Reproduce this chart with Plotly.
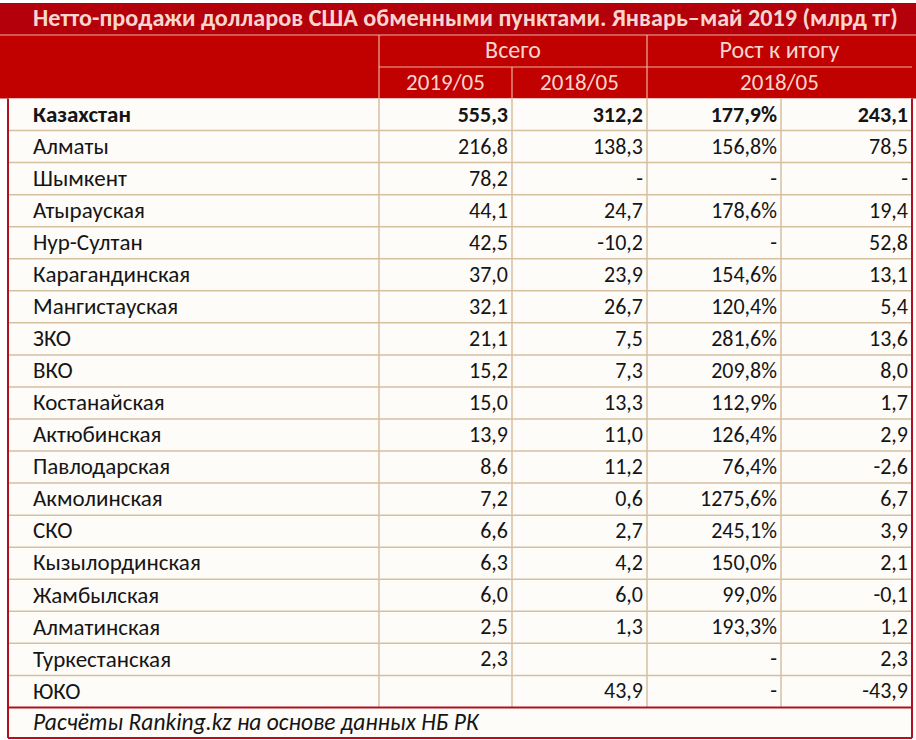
import plotly.graph_objects as go

# ---------------- data ----------------
title = "Нетто-продажи долларов США обменными пунктами. Январь–май 2019 (млрд тг)"
group_headers = ["Всего", "Рост к итогу"]
sub_headers = ["2019/05", "2018/05", "2018/05"]
footer = "Расчёты Ranking.kz на основе данных НБ РК"

regions = ["Казахстан", "Алматы", "Шымкент", "Атырауская", "Нур-Султан",
           "Карагандинская", "Мангистауская", "ЗКО", "ВКО", "Костанайская",
           "Актюбинская", "Павлодарская", "Акмолинская", "СКО",
           "Кызылординская", "Жамбылская", "Алматинская", "Туркестанская", "ЮКО"]
# None -> "-" ; "" -> empty cell
total_2019 = [555.3, 216.8, 78.2, 44.1, 42.5, 37.0, 32.1, 21.1, 15.2, 15.0,
              13.9, 8.6, 7.2, 6.6, 6.3, 6.0, 2.5, 2.3, ""]
total_2018 = [312.2, 138.3, None, 24.7, -10.2, 23.9, 26.7, 7.5, 7.3, 13.3,
              11.0, 11.2, 0.6, 2.7, 4.2, 6.0, 1.3, "", 43.9]
growth_pct = [177.9, 156.8, None, 178.6, None, 154.6, 120.4, 281.6, 209.8, 112.9,
              126.4, 76.4, 1275.6, 245.1, 150.0, 99.0, 193.3, None, None]
growth_abs = [243.1, 78.5, None, 19.4, 52.8, 13.1, 5.4, 13.6, 8.0, 1.7,
              2.9, -2.6, 6.7, 3.9, 2.1, -0.1, 1.2, 2.3, -43.9]

# ---------------- styles / layout constants ----------------
W, H = 916, 740
FONT = "Carlito, Lato, 'Open Sans', sans-serif"
RED_TITLE = "#b3000b"
RED_HEAD = "#c10000"
HEAD_TXT = "#f8d6cf"
HEAD_LINE = "#eeb09f"
GRID = "#d6bfa0"
BORDER = "#b01020"
TXT = "#151515"

x_left, x_lab, x_c1, x_c2, x_c3, x_c4, x_right = 8, 33, 379, 512, 647, 781, 912
y_title0, y_title1 = 3, 35
y_h1 = 67
y_body = 98.5
row_h = 32.05
n = len(regions)
y_body_end = y_body + row_h * n
y_foot_end = 738


def fmt(v, pct=False):
    if v is None:
        return "-"
    if v == "":
        return ""
    s = f"{v:.1f}".replace(".", ",")
    return s + "%" if pct else s


shapes = []


def rect(x0, y0, x1, y1, fill):
    shapes.append(dict(type="rect", xref="x", yref="y", x0=x0, y0=y0, x1=x1, y1=y1,
                       fillcolor=fill, line=dict(width=0), layer="below"))


def line(x0, y0, x1, y1, color, w=1):
    shapes.append(dict(type="line", xref="x", yref="y", x0=x0, y0=y0, x1=x1, y1=y1,
                       line=dict(color=color, width=w), layer="above"))


# header fills
rect(0, y_title0, W, y_title1, RED_TITLE)
rect(0, y_title1, W, y_body, RED_HEAD)
# body
rect(x_left, y_body, x_right, y_foot_end, "#fefcf9")

# header lines
line(0, y_title1, W, y_title1, HEAD_LINE, 1.2)
line(x_c1, y_h1, x_right, y_h1, HEAD_LINE, 1.2)
line(x_c1, y_title1, x_c1, y_body, HEAD_LINE, 1.2)
line(x_c3, y_title1, x_c3, y_body, HEAD_LINE, 1.2)
line(x_c2, y_h1, x_c2, y_body, HEAD_LINE, 1.2)

# body grid
for i in range(1, n):
    y = y_body + row_h * i
    line(x_left, y, x_right, y, GRID, 1.5)
for xc in (x_c1, x_c2, x_c3, x_c4):
    line(xc, y_body, xc, y_body_end, GRID, 1.5)

# outer red border of body + footer
line(x_left, y_body, x_left, y_foot_end, BORDER, 2)
line(x_right, y_body, x_right, y_foot_end, BORDER, 2)
line(x_left, y_foot_end, x_right, y_foot_end, BORDER, 2)
line(x_left, y_body_end, x_right, y_body_end, BORDER, 2)

fig = go.Figure()

# header texts
fig.add_trace(go.Scatter(x=[x_lab], y=[(y_title0 + y_title1) / 2 + 1], mode="text",
                         text=[f"<b>{title}</b>"], textposition="middle right",
                         textfont=dict(family=FONT, size=24.2, color=HEAD_TXT),
                         hoverinfo="skip", showlegend=False))
fig.add_trace(go.Scatter(x=[(x_c1 + x_c3) / 2, (x_c3 + x_right) / 2],
                         y=[(y_title1 + y_h1) / 2 + 1] * 2, mode="text",
                         text=group_headers, textposition="middle center",
                         textfont=dict(family=FONT, size=24, color=HEAD_TXT),
                         hoverinfo="skip", showlegend=False))
fig.add_trace(go.Scatter(x=[(x_c1 + x_c2) / 2, (x_c2 + x_c3) / 2, (x_c3 + x_right) / 2],
                         y=[(y_h1 + y_body) / 2 + 1] * 3, mode="text",
                         text=sub_headers, textposition="middle center",
                         textfont=dict(family=FONT, size=23, color=HEAD_TXT),
                         hoverinfo="skip", showlegend=False))

# body texts
ys = [y_body + row_h * (i + 0.5) + 1.5 for i in range(n)]


def b(s, i):
    return f"<b>{s}</b>" if i == 0 and s else s


fig.add_trace(go.Scatter(x=[x_lab] * n, y=ys, mode="text",
                         text=[b(r, i) for i, r in enumerate(regions)],
                         textposition="middle right",
                         textfont=dict(family=FONT, size=23, color=TXT),
                         hoverinfo="skip", showlegend=False))
cols = [(x_c2, total_2019, False), (x_c3, total_2018, False),
        (x_c4, growth_pct, True), (x_right, growth_abs, False)]
for xr, vals, pct in cols:
    fig.add_trace(go.Scatter(x=[xr - 4] * n, y=ys, mode="text",
                             text=[b(fmt(v, pct), i) for i, v in enumerate(vals)],
                             textposition="middle left",
                             textfont=dict(family=FONT, size=22, color=TXT),
                             hoverinfo="skip", showlegend=False))

# footer
fig.add_trace(go.Scatter(x=[x_lab], y=[(y_body_end + y_foot_end) / 2 + 1], mode="text",
                         text=[f"<i>{footer}</i>"], textposition="middle right",
                         textfont=dict(family=FONT, size=23.5, color=TXT),
                         hoverinfo="skip", showlegend=False))

fig.update_layout(
    width=W, height=H, margin=dict(l=0, r=0, t=0, b=0),
    paper_bgcolor="white", plot_bgcolor="white",
    xaxis=dict(range=[0, W], visible=False, fixedrange=True),
    yaxis=dict(range=[H, 0], visible=False, fixedrange=True),
    shapes=shapes,
)

fig.write_html("out.html", config={"displayModeBar": False},
               post_script="document.body.style.margin='0px';document.body.style.overflow='hidden';")
